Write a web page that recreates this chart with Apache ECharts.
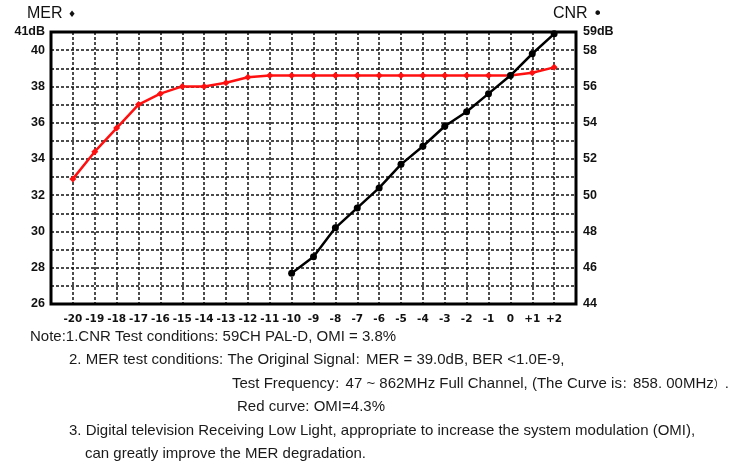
<!DOCTYPE html>
<html>
<head>
<meta charset="utf-8">
<script src="https://cdn.jsdelivr.net/npm/echarts@6/dist/echarts.min.js"></script>
<style>
html,body{margin:0;padding:0;background:#fff;}
#chart{width:731px;height:463px;}
</style>
</head>
<body>
<div id="chart"></div>
<script>
// ---- data ----
var merX = [-20,-19,-18,-17,-16,-15,-14,-13,-12,-11,-10,-9,-8,-7,-6,-5,-4,-3,-2,-1,0,1,2];
var merValues = [32.9,34.4,35.7,37.0,37.6,38.0,38.0,38.2,38.5,38.6,38.6,38.6,38.6,38.6,38.6,38.6,38.6,38.6,38.6,38.6,38.6,38.75,39.05];
var cnrX = [-10,-9,-8,-7,-6,-5,-4,-3,-2,-1,0,1,2];
var cnrValues = [45.7,46.6,48.2,49.3,50.4,51.7,52.7,53.8,54.6,55.6,56.6,57.8,58.9];
var xTickValues = [-20,-19,-18,-17,-16,-15,-14,-13,-12,-11,-10,-9,-8,-7,-6,-5,-4,-3,-2,-1,0,1,2];
var xTickLabels = ['-20','-19','-18','-17','-16','-15','-14','-13','-12','-11','-10','-9','-8','-7','-6','-5','-4','-3','-2','-1','0','+1','+2'];
var leftTickLabels = {26:'26',28:'28',30:'30',32:'32',34:'34',36:'36',38:'38',40:'40',41:'41dB'};
var rightTickLabels = {44:'44',46:'46',48:'48',50:'50',52:'52',54:'54',56:'56',58:'58',59:'59dB'};
var noteLines = [
  'Note:1.CNR Test conditions: 59CH PAL-D, OMI = 3.8%',
  '2. MER test conditions: The Original Signal\uFF1AMER = 39.0dB, BER <1.0E-9,',
  'Test Frequency\uFF1A47 ~ 862MHz Full Channel, (The Curve is\uFF1A858. 00MHz\uFF09.',
  'Red curve: OMI=4.3%',
  '3. Digital television Receiving Low Light, appropriate to increase the system modulation (OMI),',
  'can greatly improve the MER degradation.'
];

var merData = merX.map(function(x,i){return [x, merValues[i]];});
var cnrData = cnrX.map(function(x,i){return [x, cnrValues[i]];});

var chart = echarts.init(document.getElementById('chart'), null, {renderer:'canvas'});
var axisFont = {fontFamily:'Liberation Sans', fontWeight:'bold', fontSize:12.5, color:'#111'};
var notePos = [[30,337],[69,360],[232,384],[237,407],[69,431],[85,454]];

function toRich(t){
  return t.split(/([\uFF1A\uFF09])/).filter(function(s){return s.length;}).map(function(s){
    return (s === '\uFF1A' || s === '\uFF09') ? '{f|' + s + '}' : '{n|' + s + '}';
  }).join('');
}

var graphics = [
  {type:'text', left:27, top:6, style:{text:'MER', font:'16px "Liberation Sans", Arial, sans-serif', fill:'#111'}},
  {type:'text', left:68, top:10, style:{text:'\u2666', font:'9px "DejaVu Sans", sans-serif', fill:'#111'}},
  {type:'text', left:553, top:6, style:{text:'CNR', font:'16px "Liberation Sans", Arial, sans-serif', fill:'#111'}},
  {type:'text', left:593, top:7, style:{text:'\u2022', font:'16px "DejaVu Sans", sans-serif', fill:'#111'}}
];
noteLines.forEach(function(t,i){
  graphics.push({type:'text', x:notePos[i][0], y:notePos[i][1], style:{
    text:toRich(t), fill:'#1a1a1a', textVerticalAlign:'middle', textAlign:'left',
    fontSize:15, fontFamily:'"Liberation Sans", Arial, sans-serif',
    rich:{
      n:{fontSize:15, fontFamily:'"Liberation Sans", Arial, sans-serif', fill:'#1a1a1a', lineHeight:18, verticalAlign:'middle'},
      f:{fontSize:11, fontFamily:'"Noto Sans CJK SC", sans-serif', fill:'#1a1a1a', lineHeight:18, verticalAlign:'middle'}
    }
  }});
});

chart.setOption({
  animation:false,
  backgroundColor:'#fff',
  grid:{left:51, right:155, top:32, bottom:159, show:true, borderColor:'#000', borderWidth:3, backgroundColor:'transparent', z:3},
  xAxis:{
    type:'value', min:-21, max:3, interval:1,
    axisLine:{show:false},
    axisTick:{show:false},
    splitLine:{show:true, lineStyle:{color:'#111', width:1.5, type:[3,2]}},
    axisLabel:{
      margin:10,
      fontFamily:'DejaVu Sans', fontWeight:'bold', fontSize:10.5, color:'#111',
      formatter:function(v){var i = xTickValues.indexOf(v); return i>=0 ? xTickLabels[i] : '';}
    }
  },
  yAxis:[
    {
      type:'value', min:26, max:41, interval:1, position:'left',
      axisLine:{show:false}, axisTick:{show:false},
      splitLine:{show:true, lineStyle:{color:'#111', width:1.5, type:[3,2]}},
      axisLabel:Object.assign({margin:6, formatter:function(v){return leftTickLabels[v] || '';}}, axisFont)
    },
    {
      type:'value', min:44, max:59, interval:1, position:'right',
      axisLine:{show:false}, axisTick:{show:false},
      splitLine:{show:false},
      axisLabel:Object.assign({margin:7, formatter:function(v){return rightTickLabels[v] || '';}}, axisFont)
    }
  ],
  series:[
    {
      name:'MER', type:'line', yAxisIndex:0, data:merData,
      symbol:'diamond', symbolSize:7, showAllSymbol:true,
      lineStyle:{color:'#ff1010', width:2.5},
      itemStyle:{color:'#ff1010'}, z:5
    },
    {
      name:'CNR', type:'line', yAxisIndex:1, data:cnrData,
      symbol:'circle', symbolSize:7, showAllSymbol:true,
      lineStyle:{color:'#000', width:2.5},
      itemStyle:{color:'#000'}, z:6
    }
  ],
  graphic:graphics
});
</script>
</body>
</html>
